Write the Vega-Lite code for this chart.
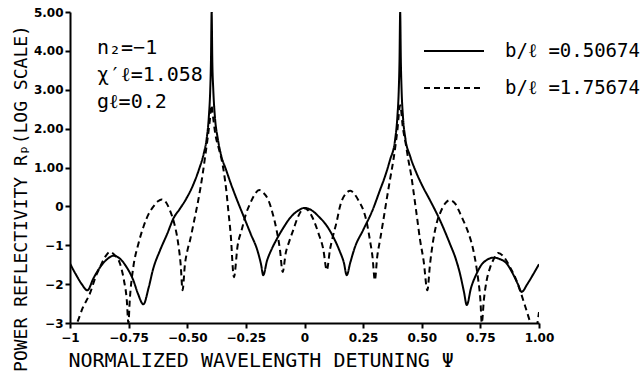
{
  "$schema": "https://vega.github.io/schema/vega-lite/v6.json",
  "autosize": {"type": "none"},
  "padding": {"left": 70, "top": 12, "right": 101, "bottom": 60},
  "width": 469,
  "height": 311,
  "background": "white",
  "config": {"view": {"stroke": null}, "font": "DejaVu Sans Mono"},
  "title": {
    "text": ["n₂=−1", "χ′ℓ=1.058", "gℓ=0.2"],
    "anchor": "start",
    "frame": "group",
    "orient": "top",
    "offset": 0,
    "baseline": "top",
    "dx": 27,
    "dy": 106,
    "lineHeight": 27,
    "font": "DejaVu Sans Mono",
    "fontSize": 20,
    "fontWeight": "normal",
    "color": "black"
  },
  "data": {"values": [
    {"series": "b/ℓ =0.50674", "x": -1.0, "y": -1.47},
    {"series": "b/ℓ =0.50674", "x": -0.975, "y": -1.75},
    {"series": "b/ℓ =0.50674", "x": -0.95, "y": -2.0},
    {"series": "b/ℓ =0.50674", "x": -0.926, "y": -2.16},
    {"series": "b/ℓ =0.50674", "x": -0.9, "y": -1.85},
    {"series": "b/ℓ =0.50674", "x": -0.87, "y": -1.55},
    {"series": "b/ℓ =0.50674", "x": -0.84, "y": -1.35},
    {"series": "b/ℓ =0.50674", "x": -0.815, "y": -1.27},
    {"series": "b/ℓ =0.50674", "x": -0.79, "y": -1.33},
    {"series": "b/ℓ =0.50674", "x": -0.76, "y": -1.55},
    {"series": "b/ℓ =0.50674", "x": -0.73, "y": -1.9},
    {"series": "b/ℓ =0.50674", "x": -0.71, "y": -2.25},
    {"series": "b/ℓ =0.50674", "x": -0.687, "y": -2.52},
    {"series": "b/ℓ =0.50674", "x": -0.665, "y": -2.1},
    {"series": "b/ℓ =0.50674", "x": -0.645, "y": -1.6},
    {"series": "b/ℓ =0.50674", "x": -0.616, "y": -1.13},
    {"series": "b/ℓ =0.50674", "x": -0.585, "y": -0.7},
    {"series": "b/ℓ =0.50674", "x": -0.559, "y": -0.31},
    {"series": "b/ℓ =0.50674", "x": -0.53, "y": -0.05},
    {"series": "b/ℓ =0.50674", "x": -0.502, "y": 0.22},
    {"series": "b/ℓ =0.50674", "x": -0.475, "y": 0.55},
    {"series": "b/ℓ =0.50674", "x": -0.45, "y": 0.95},
    {"series": "b/ℓ =0.50674", "x": -0.43, "y": 1.35},
    {"series": "b/ℓ =0.50674", "x": -0.417, "y": 1.75},
    {"series": "b/ℓ =0.50674", "x": -0.408, "y": 2.3},
    {"series": "b/ℓ =0.50674", "x": -0.402, "y": 3.0},
    {"series": "b/ℓ =0.50674", "x": -0.399, "y": 3.7},
    {"series": "b/ℓ =0.50674", "x": -0.396, "y": 5.0},
    {"series": "b/ℓ =0.50674", "x": -0.393, "y": 3.7},
    {"series": "b/ℓ =0.50674", "x": -0.389, "y": 3.0},
    {"series": "b/ℓ =0.50674", "x": -0.382, "y": 2.3},
    {"series": "b/ℓ =0.50674", "x": -0.37, "y": 1.75},
    {"series": "b/ℓ =0.50674", "x": -0.355, "y": 1.3},
    {"series": "b/ℓ =0.50674", "x": -0.335, "y": 0.95},
    {"series": "b/ℓ =0.50674", "x": -0.315, "y": 0.6},
    {"series": "b/ℓ =0.50674", "x": -0.29, "y": 0.2},
    {"series": "b/ℓ =0.50674", "x": -0.26, "y": -0.25},
    {"series": "b/ℓ =0.50674", "x": -0.23, "y": -0.7},
    {"series": "b/ℓ =0.50674", "x": -0.2, "y": -1.15},
    {"series": "b/ℓ =0.50674", "x": -0.185, "y": -1.5},
    {"series": "b/ℓ =0.50674", "x": -0.176, "y": -1.77},
    {"series": "b/ℓ =0.50674", "x": -0.16, "y": -1.4},
    {"series": "b/ℓ =0.50674", "x": -0.14, "y": -1.1},
    {"series": "b/ℓ =0.50674", "x": -0.119, "y": -0.85},
    {"series": "b/ℓ =0.50674", "x": -0.09, "y": -0.55},
    {"series": "b/ℓ =0.50674", "x": -0.062, "y": -0.3},
    {"series": "b/ℓ =0.50674", "x": -0.03, "y": -0.12},
    {"series": "b/ℓ =0.50674", "x": 0.0, "y": -0.04},
    {"series": "b/ℓ =0.50674", "x": 0.03, "y": -0.1},
    {"series": "b/ℓ =0.50674", "x": 0.062, "y": -0.27},
    {"series": "b/ℓ =0.50674", "x": 0.095, "y": -0.5},
    {"series": "b/ℓ =0.50674", "x": 0.123, "y": -0.79},
    {"series": "b/ℓ =0.50674", "x": 0.15, "y": -1.15},
    {"series": "b/ℓ =0.50674", "x": 0.168, "y": -1.45},
    {"series": "b/ℓ =0.50674", "x": 0.18, "y": -1.77},
    {"series": "b/ℓ =0.50674", "x": 0.195, "y": -1.45},
    {"series": "b/ℓ =0.50674", "x": 0.215, "y": -1.05},
    {"series": "b/ℓ =0.50674", "x": 0.25, "y": -0.61},
    {"series": "b/ℓ =0.50674", "x": 0.29, "y": -0.1},
    {"series": "b/ℓ =0.50674", "x": 0.322, "y": 0.42},
    {"series": "b/ℓ =0.50674", "x": 0.345, "y": 0.8},
    {"series": "b/ℓ =0.50674", "x": 0.365, "y": 1.2},
    {"series": "b/ℓ =0.50674", "x": 0.386, "y": 1.7},
    {"series": "b/ℓ =0.50674", "x": 0.396, "y": 2.3},
    {"series": "b/ℓ =0.50674", "x": 0.402, "y": 3.0},
    {"series": "b/ℓ =0.50674", "x": 0.405, "y": 3.7},
    {"series": "b/ℓ =0.50674", "x": 0.408, "y": 5.0},
    {"series": "b/ℓ =0.50674", "x": 0.411, "y": 3.7},
    {"series": "b/ℓ =0.50674", "x": 0.414, "y": 3.0},
    {"series": "b/ℓ =0.50674", "x": 0.42, "y": 2.3},
    {"series": "b/ℓ =0.50674", "x": 0.43, "y": 1.75},
    {"series": "b/ℓ =0.50674", "x": 0.45, "y": 1.3},
    {"series": "b/ℓ =0.50674", "x": 0.478, "y": 0.85},
    {"series": "b/ℓ =0.50674", "x": 0.505, "y": 0.5},
    {"series": "b/ℓ =0.50674", "x": 0.535, "y": 0.16},
    {"series": "b/ℓ =0.50674", "x": 0.578, "y": -0.36},
    {"series": "b/ℓ =0.50674", "x": 0.62, "y": -0.96},
    {"series": "b/ℓ =0.50674", "x": 0.645, "y": -1.35},
    {"series": "b/ℓ =0.50674", "x": 0.663, "y": -1.73},
    {"series": "b/ℓ =0.50674", "x": 0.68, "y": -2.2},
    {"series": "b/ℓ =0.50674", "x": 0.692, "y": -2.54},
    {"series": "b/ℓ =0.50674", "x": 0.71, "y": -2.1},
    {"series": "b/ℓ =0.50674", "x": 0.734, "y": -1.73},
    {"series": "b/ℓ =0.50674", "x": 0.755, "y": -1.5},
    {"series": "b/ℓ =0.50674", "x": 0.777, "y": -1.38},
    {"series": "b/ℓ =0.50674", "x": 0.805, "y": -1.32},
    {"series": "b/ℓ =0.50674", "x": 0.835, "y": -1.36},
    {"series": "b/ℓ =0.50674", "x": 0.862, "y": -1.47},
    {"series": "b/ℓ =0.50674", "x": 0.89, "y": -1.75},
    {"series": "b/ℓ =0.50674", "x": 0.91, "y": -2.0},
    {"series": "b/ℓ =0.50674", "x": 0.926, "y": -2.2},
    {"series": "b/ℓ =0.50674", "x": 0.95, "y": -2.0},
    {"series": "b/ℓ =0.50674", "x": 0.975, "y": -1.75},
    {"series": "b/ℓ =0.50674", "x": 1.0, "y": -1.49},

    {"series": "b/ℓ =1.75674", "x": -0.985, "y": -3.2},
    {"series": "b/ℓ =1.75674", "x": -0.97, "y": -3.0},
    {"series": "b/ℓ =1.75674", "x": -0.945, "y": -2.6},
    {"series": "b/ℓ =1.75674", "x": -0.915, "y": -2.24},
    {"series": "b/ℓ =1.75674", "x": -0.89, "y": -1.8},
    {"series": "b/ℓ =1.75674", "x": -0.872, "y": -1.56},
    {"series": "b/ℓ =1.75674", "x": -0.85, "y": -1.3},
    {"series": "b/ℓ =1.75674", "x": -0.829, "y": -1.17},
    {"series": "b/ℓ =1.75674", "x": -0.81, "y": -1.25},
    {"series": "b/ℓ =1.75674", "x": -0.787, "y": -1.47},
    {"series": "b/ℓ =1.75674", "x": -0.77, "y": -1.9},
    {"series": "b/ℓ =1.75674", "x": -0.758, "y": -2.4},
    {"series": "b/ℓ =1.75674", "x": -0.751, "y": -3.0},
    {"series": "b/ℓ =1.75674", "x": -0.745, "y": -2.4},
    {"series": "b/ℓ =1.75674", "x": -0.73, "y": -1.56},
    {"series": "b/ℓ =1.75674", "x": -0.71, "y": -1.0},
    {"series": "b/ℓ =1.75674", "x": -0.687, "y": -0.53},
    {"series": "b/ℓ =1.75674", "x": -0.665, "y": -0.2},
    {"series": "b/ℓ =1.75674", "x": -0.645, "y": -0.01},
    {"series": "b/ℓ =1.75674", "x": -0.625, "y": 0.13},
    {"series": "b/ℓ =1.75674", "x": -0.609, "y": 0.18},
    {"series": "b/ℓ =1.75674", "x": -0.59, "y": 0.1},
    {"series": "b/ℓ =1.75674", "x": -0.574, "y": -0.1},
    {"series": "b/ℓ =1.75674", "x": -0.555, "y": -0.45},
    {"series": "b/ℓ =1.75674", "x": -0.54, "y": -0.9},
    {"series": "b/ℓ =1.75674", "x": -0.528, "y": -1.5},
    {"series": "b/ℓ =1.75674", "x": -0.52, "y": -2.16},
    {"series": "b/ℓ =1.75674", "x": -0.51, "y": -1.5},
    {"series": "b/ℓ =1.75674", "x": -0.498, "y": -1.1},
    {"series": "b/ℓ =1.75674", "x": -0.488, "y": -0.87},
    {"series": "b/ℓ =1.75674", "x": -0.47, "y": -0.35},
    {"series": "b/ℓ =1.75674", "x": -0.453, "y": 0.16},
    {"series": "b/ℓ =1.75674", "x": -0.435, "y": 0.8},
    {"series": "b/ℓ =1.75674", "x": -0.424, "y": 1.27},
    {"series": "b/ℓ =1.75674", "x": -0.412, "y": 1.8},
    {"series": "b/ℓ =1.75674", "x": -0.404, "y": 2.2},
    {"series": "b/ℓ =1.75674", "x": -0.397, "y": 2.6},
    {"series": "b/ℓ =1.75674", "x": -0.39, "y": 2.3},
    {"series": "b/ℓ =1.75674", "x": -0.38, "y": 1.85},
    {"series": "b/ℓ =1.75674", "x": -0.366, "y": 1.5},
    {"series": "b/ℓ =1.75674", "x": -0.353, "y": 1.19},
    {"series": "b/ℓ =1.75674", "x": -0.343, "y": 0.85},
    {"series": "b/ℓ =1.75674", "x": -0.332, "y": 0.33},
    {"series": "b/ℓ =1.75674", "x": -0.325, "y": -0.1},
    {"series": "b/ℓ =1.75674", "x": -0.315, "y": -0.7},
    {"series": "b/ℓ =1.75674", "x": -0.301, "y": -1.82},
    {"series": "b/ℓ =1.75674", "x": -0.285, "y": -1.0},
    {"series": "b/ℓ =1.75674", "x": -0.268, "y": -0.61},
    {"series": "b/ℓ =1.75674", "x": -0.25, "y": -0.2},
    {"series": "b/ℓ =1.75674", "x": -0.232, "y": 0.07},
    {"series": "b/ℓ =1.75674", "x": -0.21, "y": 0.33},
    {"series": "b/ℓ =1.75674", "x": -0.193, "y": 0.42},
    {"series": "b/ℓ =1.75674", "x": -0.175, "y": 0.35},
    {"series": "b/ℓ =1.75674", "x": -0.154, "y": 0.16},
    {"series": "b/ℓ =1.75674", "x": -0.135, "y": -0.2},
    {"series": "b/ℓ =1.75674", "x": -0.119, "y": -0.61},
    {"series": "b/ℓ =1.75674", "x": -0.105, "y": -1.1},
    {"series": "b/ℓ =1.75674", "x": -0.093, "y": -1.69},
    {"series": "b/ℓ =1.75674", "x": -0.08, "y": -1.2},
    {"series": "b/ℓ =1.75674", "x": -0.065, "y": -0.9},
    {"series": "b/ℓ =1.75674", "x": -0.048, "y": -0.61},
    {"series": "b/ℓ =1.75674", "x": -0.03, "y": -0.3},
    {"series": "b/ℓ =1.75674", "x": -0.012, "y": -0.1},
    {"series": "b/ℓ =1.75674", "x": 0.0, "y": -0.05},
    {"series": "b/ℓ =1.75674", "x": 0.015, "y": -0.1},
    {"series": "b/ℓ =1.75674", "x": 0.035, "y": -0.3},
    {"series": "b/ℓ =1.75674", "x": 0.06, "y": -0.7},
    {"series": "b/ℓ =1.75674", "x": 0.08, "y": -1.1},
    {"series": "b/ℓ =1.75674", "x": 0.095, "y": -1.64},
    {"series": "b/ℓ =1.75674", "x": 0.109, "y": -1.1},
    {"series": "b/ℓ =1.75674", "x": 0.12, "y": -0.8},
    {"series": "b/ℓ =1.75674", "x": 0.137, "y": -0.4},
    {"series": "b/ℓ =1.75674", "x": 0.151, "y": -0.01},
    {"series": "b/ℓ =1.75674", "x": 0.175, "y": 0.32},
    {"series": "b/ℓ =1.75674", "x": 0.196, "y": 0.4},
    {"series": "b/ℓ =1.75674", "x": 0.215, "y": 0.3},
    {"series": "b/ℓ =1.75674", "x": 0.235, "y": 0.1},
    {"series": "b/ℓ =1.75674", "x": 0.251, "y": -0.1},
    {"series": "b/ℓ =1.75674", "x": 0.265, "y": -0.4},
    {"series": "b/ℓ =1.75674", "x": 0.279, "y": -0.87},
    {"series": "b/ℓ =1.75674", "x": 0.29, "y": -1.3},
    {"series": "b/ℓ =1.75674", "x": 0.3, "y": -1.9},
    {"series": "b/ℓ =1.75674", "x": 0.31, "y": -1.3},
    {"series": "b/ℓ =1.75674", "x": 0.322, "y": -0.87},
    {"series": "b/ℓ =1.75674", "x": 0.335, "y": -0.4},
    {"series": "b/ℓ =1.75674", "x": 0.35, "y": 0.16},
    {"series": "b/ℓ =1.75674", "x": 0.365, "y": 0.7},
    {"series": "b/ℓ =1.75674", "x": 0.379, "y": 1.19},
    {"series": "b/ℓ =1.75674", "x": 0.395, "y": 1.9},
    {"series": "b/ℓ =1.75674", "x": 0.408, "y": 2.6},
    {"series": "b/ℓ =1.75674", "x": 0.42, "y": 2.0},
    {"series": "b/ℓ =1.75674", "x": 0.432, "y": 1.6},
    {"series": "b/ℓ =1.75674", "x": 0.443, "y": 1.19},
    {"series": "b/ℓ =1.75674", "x": 0.455, "y": 0.8},
    {"series": "b/ℓ =1.75674", "x": 0.464, "y": 0.42},
    {"series": "b/ℓ =1.75674", "x": 0.478, "y": -0.2},
    {"series": "b/ℓ =1.75674", "x": 0.493, "y": -0.87},
    {"series": "b/ℓ =1.75674", "x": 0.508, "y": -1.4},
    {"series": "b/ℓ =1.75674", "x": 0.524, "y": -2.16},
    {"series": "b/ℓ =1.75674", "x": 0.535, "y": -1.5},
    {"series": "b/ℓ =1.75674", "x": 0.549, "y": -0.87},
    {"series": "b/ℓ =1.75674", "x": 0.565, "y": -0.4},
    {"series": "b/ℓ =1.75674", "x": 0.578, "y": -0.18},
    {"series": "b/ℓ =1.75674", "x": 0.6, "y": 0.08},
    {"series": "b/ℓ =1.75674", "x": 0.62, "y": 0.16},
    {"series": "b/ℓ =1.75674", "x": 0.645, "y": 0.05},
    {"series": "b/ℓ =1.75674", "x": 0.665, "y": -0.2},
    {"series": "b/ℓ =1.75674", "x": 0.677, "y": -0.36},
    {"series": "b/ℓ =1.75674", "x": 0.7, "y": -0.7},
    {"series": "b/ℓ =1.75674", "x": 0.72, "y": -1.13},
    {"series": "b/ℓ =1.75674", "x": 0.741, "y": -1.9},
    {"series": "b/ℓ =1.75674", "x": 0.75, "y": -2.4},
    {"series": "b/ℓ =1.75674", "x": 0.756, "y": -3.0},
    {"series": "b/ℓ =1.75674", "x": 0.765, "y": -2.4},
    {"series": "b/ℓ =1.75674", "x": 0.777, "y": -1.9},
    {"series": "b/ℓ =1.75674", "x": 0.79, "y": -1.6},
    {"series": "b/ℓ =1.75674", "x": 0.805, "y": -1.38},
    {"series": "b/ℓ =1.75674", "x": 0.826, "y": -1.2},
    {"series": "b/ℓ =1.75674", "x": 0.85, "y": -1.3},
    {"series": "b/ℓ =1.75674", "x": 0.876, "y": -1.56},
    {"series": "b/ℓ =1.75674", "x": 0.9, "y": -1.85},
    {"series": "b/ℓ =1.75674", "x": 0.919, "y": -2.16},
    {"series": "b/ℓ =1.75674", "x": 0.94, "y": -2.55},
    {"series": "b/ℓ =1.75674", "x": 0.962, "y": -2.97},
    {"series": "b/ℓ =1.75674", "x": 0.98, "y": -3.3},
    {"series": "b/ℓ =1.75674", "x": 1.0, "y": -2.72}
  ]},
  "mark": {"type": "line", "color": "black", "strokeWidth": 2, "clip": true, "interpolate": "monotone"},
  "encoding": {
    "x": {
      "field": "x", "type": "quantitative",
      "scale": {"domain": [-1, 1], "nice": false, "zero": false},
      "axis": {
        "values": [-1, -0.75, -0.5, -0.25, 0, 0.25, 0.5, 0.75, 1],
        "labelExpr": "datum.value == -1 ? '−1' : datum.value == 0 ? '0' : format(datum.value, '.2f')",
        "grid": false,
        "domainColor": "black", "domainWidth": 2,
        "tickColor": "black", "tickWidth": 2, "tickSize": 5,
        "labelFont": "DejaVu Sans", "labelFontWeight": "bold", "labelFontSize": 12, "labelColor": "black",
        "labelPadding": 4, "labelFlush": false, "labelOverlap": false,
        "title": "NORMALIZED WAVELENGTH DETUNING  Ψ",
        "titleFont": "DejaVu Sans Mono", "titleFontSize": 20, "titleFontWeight": "normal", "titleColor": "black",
        "titleAnchor": "start", "titleAlign": "left", "titleBaseline": "middle",
        "titleX": -2, "titleY": 37
      }
    },
    "y": {
      "field": "y", "type": "quantitative",
      "scale": {"domain": [-3, 5], "nice": false, "zero": false},
      "axis": {
        "values": [-3, -2, -1, 0, 1, 2, 3, 4, 5],
        "labelExpr": "datum.value > 0 ? format(datum.value, '.2f') : datum.value == 0 ? '0' : '−' + format(-datum.value, 'd')",
        "grid": false,
        "domainColor": "black", "domainWidth": 2,
        "tickColor": "black", "tickWidth": 2, "tickSize": 5,
        "labelFont": "DejaVu Sans", "labelFontWeight": "bold", "labelFontSize": 12, "labelColor": "black",
        "labelPadding": 2, "labelFlush": false, "labelOverlap": false,
        "title": "POWER REFLECTIVITY  Rₚ(LOG SCALE)",
        "titleFont": "DejaVu Sans Mono", "titleFontSize": 18, "titleFontWeight": "normal", "titleColor": "black",
        "titleAngle": -90, "titleAlign": "center", "titleBaseline": "middle",
        "titleX": -49, "titleY": 186
      }
    },
    "strokeDash": {
      "field": "series", "type": "nominal",
      "scale": {"domain": ["b/ℓ =0.50674", "b/ℓ =1.75674"], "range": [[1, 0], [6, 4]]},
      "legend": {
        "title": null,
        "orient": "none",
        "legendX": 353,
        "legendY": 29,
        "padding": 0,
        "symbolType": "stroke",
        "symbolSize": 3600,
        "symbolStrokeWidth": 2,
        "symbolStrokeColor": "black",
        "clipHeight": 20,
        "rowPadding": 17,
        "labelOffset": 20,
        "labelFont": "DejaVu Sans Mono",
        "labelFontSize": 19,
        "labelColor": "black",
        "labelLimit": 300
      }
    }
  }
}
